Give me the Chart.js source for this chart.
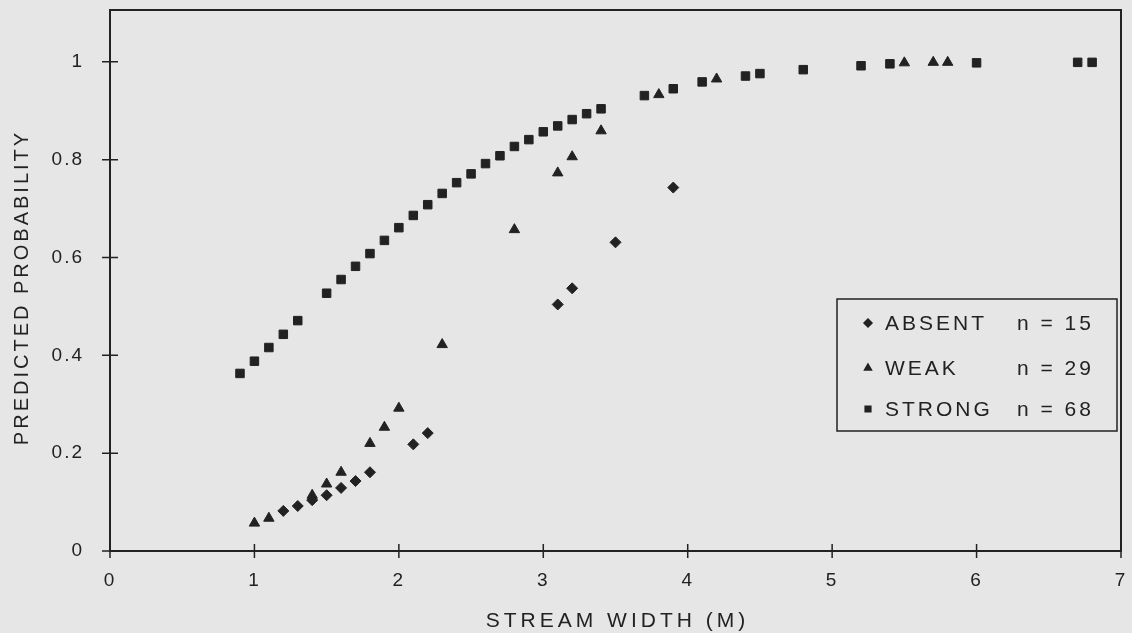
<!DOCTYPE html>
<html><head><meta charset="utf-8">
<script src="https://cdn.jsdelivr.net/npm/chart.js@4"></script>
<style>
html,body{margin:0;padding:0;background:#e6e6e6;}
#wrap{width:1132px;height:633px;position:relative;}
</style>
</head><body><div id="wrap"><canvas id="c"></canvas></div>
<script>
// ---- data ----
const absentX = [1.2,1.3,1.4,1.5,1.6,1.7,1.8,2.1,2.2,3.1,3.2,3.5,3.9];
const absentY = [0.082,0.092,0.104,0.114,0.129,0.143,0.161,0.218,0.241,0.504,0.537,0.631,0.743];
const weakX = [1.0,1.1,1.4,1.5,1.6,1.8,1.9,2.0,2.3,2.8,3.1,3.2,3.4,3.8,4.2,5.5,5.7,5.8];
const weakY = [0.057,0.067,0.114,0.137,0.161,0.220,0.253,0.292,0.422,0.657,0.773,0.806,0.859,0.933,0.965,0.998,0.999,0.999];
const strongX = [0.9,1.0,1.1,1.2,1.3,1.5,1.6,1.7,1.8,1.9,2.0,2.1,2.2,2.3,2.4,2.5,2.6,2.7,2.8,2.9,3.0,3.1,3.2,3.3,3.4,3.7,3.9,4.1,4.4,4.5,4.8,5.2,5.4,6.0,6.7,6.8];
const strongY = [0.363,0.388,0.416,0.443,0.471,0.527,0.555,0.582,0.608,0.635,0.661,0.686,0.708,0.731,0.753,0.771,0.792,0.808,0.827,0.841,0.857,0.869,0.882,0.894,0.904,0.931,0.945,0.959,0.971,0.976,0.984,0.992,0.996,0.998,0.999,0.999];
const seriesNames = ['ABSENT','WEAK','STRONG'];
const seriesCounts = ['n = 15','n = 29','n = 68'];
const xTicks = [0,1,2,3,4,5,6,7];
const yTicks = [0,0.2,0.4,0.6,0.8,1];
const xTitle = 'STREAM WIDTH (M)';
const yTitle = 'PREDICTED PROBABILITY';

const INK = '#222222';
const FONT = "'Liberation Sans', Arial, sans-serif";
const pts = (xs, ys) => xs.map((x, i) => ({x, y: ys[i]}));

const spacingPlugin = {
  id: 'spacing',
  beforeDraw(chart) { chart.ctx.letterSpacing = '2px'; }
};

const framePlugin = {
  id: 'frame',
  afterDatasetsDraw(chart) {
    const {ctx, chartArea: a, scales} = chart;
    ctx.save();
    ctx.strokeStyle = INK;
    ctx.lineWidth = 2;
    ctx.strokeRect(a.left, a.top, a.right - a.left, a.bottom - a.top);
    ctx.lineWidth = 1.5;
    ctx.beginPath();
    xTicks.forEach(v => {
      const px = scales.x.getPixelForValue(v);
      ctx.moveTo(px, a.bottom - 7); ctx.lineTo(px, a.bottom + 7);
    });
    yTicks.forEach(v => {
      const py = scales.y.getPixelForValue(v);
      ctx.moveTo(a.left - 8, py); ctx.lineTo(a.left + 8, py);
    });
    ctx.stroke();
    ctx.restore();
  }
};

const titlePlugin = {
  id: 'axisTitles',
  afterDraw(chart) {
    const {ctx, chartArea: a} = chart;
    ctx.save();
    ctx.fillStyle = INK;
    ctx.textAlign = 'center';
    ctx.textBaseline = 'middle';
    ctx.letterSpacing = '4px';
    ctx.font = '21px ' + FONT;
    ctx.fillText(xTitle, (a.left + a.right) / 2 + 2, 621);
    ctx.translate(22, (a.top + a.bottom) / 2 + 8);
    ctx.rotate(-Math.PI / 2);
    ctx.letterSpacing = '3px';
    ctx.font = '20px ' + FONT;
    ctx.fillText(yTitle, 1, 0);
    ctx.restore();
  }
};

const legendPlugin = {
  id: 'boxLegend',
  afterDraw(chart) {
    const {ctx, chartArea: a} = chart;
    const w = 280, h = 132;
    const bx = a.right - 4 - w, by = a.top + 289;
    ctx.save();
    ctx.letterSpacing = '3px';
    ctx.strokeStyle = INK; ctx.lineWidth = 1.5;
    ctx.strokeRect(bx, by, w, h);
    ctx.font = '21px ' + FONT;
    ctx.fillStyle = INK;
    ctx.textBaseline = 'middle';
    const rows = [24, 69, 110];
    chart.data.datasets.forEach((ds, i) => {
      const y = by + rows[i];
      Chart.helpers.drawPoint(ctx, {pointStyle: ds.pointStyle, radius: 4, borderWidth: 1}, bx + 31, y);
      ctx.fillStyle = INK;
      ctx.fill();
      ctx.fillText(seriesNames[i], bx + 48, y + 1);
      ctx.fillText(seriesCounts[i], bx + 180, y + 1);
    });
    ctx.restore();
  }
};

function noPad(s) { s.paddingTop = 0; s.paddingBottom = 0; s.paddingLeft = 0; s.paddingRight = 0; }

new Chart(document.getElementById('c'), {
  type: 'scatter',
  data: {
    datasets: [
      {label: seriesNames[0], data: pts(absentX, absentY), pointStyle: 'rectRot', pointRadius: 5.5,
       backgroundColor: INK, borderColor: INK, borderWidth: 1},
      {label: seriesNames[1], data: pts(weakX, weakY), pointStyle: 'triangle', pointRadius: 6,
       backgroundColor: INK, borderColor: INK, borderWidth: 1},
      {label: seriesNames[2], data: pts(strongX, strongY), pointStyle: 'rect', pointRadius: 6,
       backgroundColor: INK, borderColor: INK, borderWidth: 1}
    ]
  },
  options: {
    responsive: true,
    maintainAspectRatio: false,
    animation: false,
    events: [],
    layout: {padding: {top: 10, right: 11, left: 0, bottom: 0}},
    plugins: {legend: {display: false}, tooltip: {enabled: false}},
    scales: {
      x: {
        type: 'linear', min: 0, max: 7,
        afterFit(s) { s.height = 82; noPad(s); },
        afterBuildTicks(s) { s.ticks = xTicks.map(v => ({value: v})); },
        grid: {display: false, drawTicks: false},
        border: {display: false},
        ticks: {color: INK, font: {family: FONT, size: 19}, padding: 18, maxRotation: 0,
                callback: v => String(v)},
        title: {display: false}
      },
      y: {
        type: 'linear', min: 0, max: 1.106,
        afterFit(s) { s.width = 110; noPad(s); },
        afterBuildTicks(s) { s.ticks = yTicks.map(v => ({value: v})); },
        grid: {display: false, drawTicks: false},
        border: {display: false},
        ticks: {color: INK, font: {family: FONT, size: 19}, padding: 26,
                callback: v => String(Number(v.toFixed(1)))},
        title: {display: false}
      }
    }
  },
  plugins: [spacingPlugin, framePlugin, titlePlugin, legendPlugin]
});
</script>
</body></html>
